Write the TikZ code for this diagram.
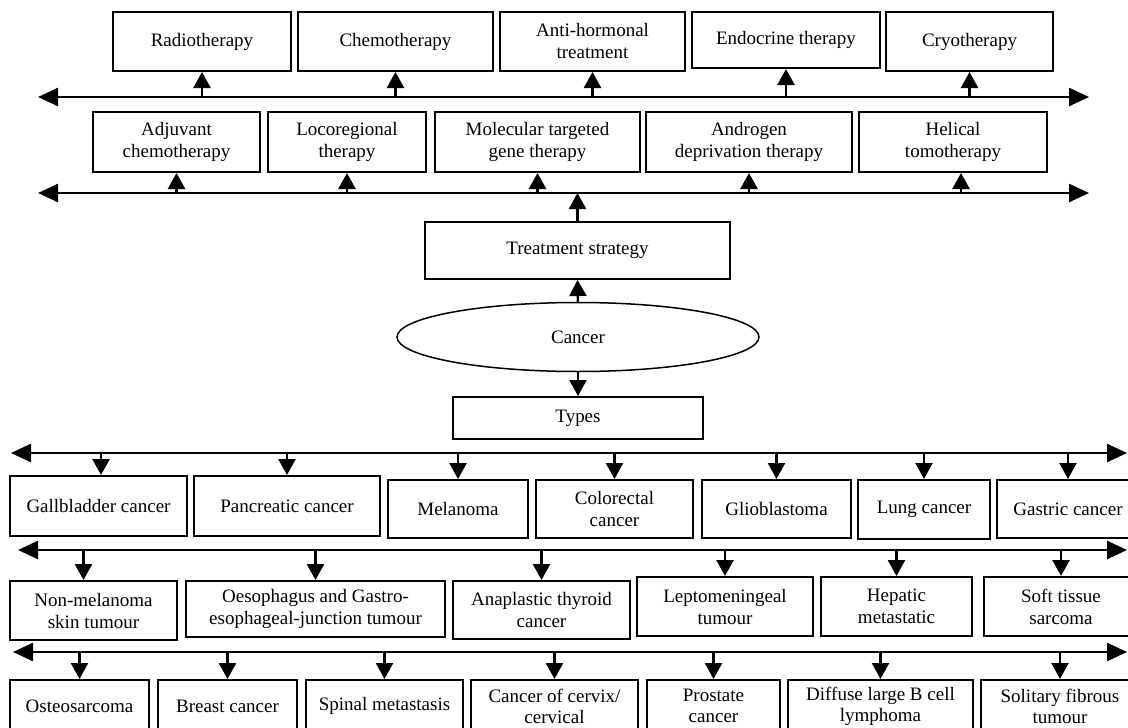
\documentclass[tikz,border=0pt]{standalone}
\usepackage{fontspec}
\setmainfont{Liberation Serif}
\usetikzlibrary{arrows.meta,shapes.geometric}
\newcommand\mybox[6]{%
  \pgfmathsetmacro\bxcx{(#2+#4)/2}%
  \pgfmathsetmacro\bxcy{(#3+#5)/2}%
  \pgfmathsetmacro\bxw{#4-#2}%
  \pgfmathsetmacro\bxh{#5-#3}%
  \node[bx, minimum width=\bxw pt, minimum height=\bxh pt] (#1) at (\bxcx,\bxcy) {#6};}
\begin{document}
\begin{tikzpicture}[x=1pt,y=-1pt,
  bx/.style={draw, line width=2pt, align=center, inner sep=0pt,
    font=\fontsize{19}{22}\selectfont},
  bxlow/.style={font=\fontsize{19}{21}\selectfont},
  arr/.style={line width=2.5pt, -{Triangle[length=16pt,width=17pt]}},
  hline/.style={line width=2.5pt, {Triangle[length=20pt,width=18pt]}-{Triangle[length=20pt,width=18pt]}}]
\useasboundingbox (0,0) rectangle (1128,728);
\clip (0,0) rectangle (1128,728);
\fill[white] (0,0) rectangle (1128,728);

% row A
\mybox{radio}{113}{12}{291}{71}{Radiotherapy}
\mybox{chemo}{298}{12}{493}{71}{Chemotherapy}
\mybox{antih}{500}{12}{685}{71}{Anti-hormonal\\treatment}
\mybox{endo}{692}{12}{880}{68}{Endocrine therapy}
\mybox{cryo}{886}{12}{1053}{71}{Cryotherapy}
% row B
\mybox{adjuv}{93}{112}{260}{172}{Adjuvant\\chemotherapy}
\mybox{loco}{268}{112}{426}{172}{Locoregional\\therapy}
\mybox{molec}{435}{112}{640}{172}{Molecular targeted\\gene therapy}
\mybox{andro}{646}{112}{852}{172}{Androgen\\deprivation therapy}
\mybox{helic}{859}{112}{1047}{172}{Helical\\tomotherapy}
% centre
\mybox{treat}{425}{222}{730}{279}{Treatment strategy}
\node[draw, ellipse, line width=1.5pt, minimum width=362pt, minimum height=69pt, inner sep=0pt,
  font=\fontsize{19}{22}\selectfont] (cancer) at (578,337) {Cancer};
\mybox{types}{453}{397}{703}{439}{Types}
% row C
\mybox{gall}{10}{476}{187}{536}{Gallbladder cancer}
\mybox{panc}{194}{476}{380}{536}{Pancreatic cancer}
\mybox{mela}{388}{480}{528}{538}{Melanoma}
\mybox{colo}{536}{480}{693}{538}{Colorectal\\cancer}
\mybox{glio}{702}{480}{851}{538}{Glioblastoma}
\mybox{lung}{858}{480}{990}{539}{Lung cancer}
\mybox{gast}{997}{480}{1139}{538}{Gastric cancer}
% row D
\mybox{nonmel}{10}{581}{177}{640}{Non-melanoma\\skin tumour}
\mybox{oeso}{186}{581}{445}{637}{Oesophagus and Gastro-\\esophageal-junction tumour}
\mybox{anap}{453}{581}{630}{639}{Anaplastic thyroid\\cancer}
\mybox{lepto}{637}{577}{813}{636}{Leptomeningeal\\tumour}
\mybox{hepa}{821}{577}{972}{636}{Hepatic\\metastatic}
\mybox{soft}{984}{577}{1138}{636}{Soft tissue\\sarcoma}
% row E
\tikzset{bx/.append style={bxlow}}
\mybox{osteo}{10}{680}{149}{732}{Osteosarcoma}
\mybox{breast}{158}{680}{297}{732}{Breast cancer}
\mybox{spinal}{306}{680}{463}{732}{Spinal metastasis}
\mybox{cervix}{471}{680}{638}{732}{Cancer of cervix/\\cervical}
\mybox{prost}{647}{680}{780}{732}{Prostate\\cancer}
\mybox{diffuse}{788}{680}{973}{732}{Diffuse large B cell\\lymphoma}
\mybox{solit}{981}{680}{1139}{732}{Solitary fibrous\\tumour}

% distribution lines
\coordinate (LAl) at (38,97);   \coordinate (LAr) at (1089,97);
\coordinate (LBl) at (38,193);  \coordinate (LBr) at (1089,193);
\coordinate (LCl) at (11,453);  \coordinate (LCr) at (1127,453);
\coordinate (LDl) at (18,550);  \coordinate (LDr) at (1127,550);
\coordinate (LEl) at (13,652);  \coordinate (LEr) at (1127,652);
\draw[hline] (LAl) -- (LAr);
\draw[hline] (LBl) -- (LBr);
\draw[hline] (LCl) -- (LCr);
\draw[hline] (LDl) -- (LDr);
\draw[hline] (LEl) -- (LEr);

% upward arrows
\foreach \n in {radio,chemo,antih,endo,cryo}
  \draw[arr] (\n.south |- LAl) -- (\n.south);
\foreach \n in {adjuv,loco,molec,andro}
  \draw[arr] (\n.south |- LBl) -- (\n.south);
\draw[arr] ([xshift=8pt]helic.south |- LBl) -- ([xshift=8pt]helic.south);
\draw[arr] (treat.north) -- (treat.north |- LBl);
\draw[arr] (cancer.north) -- (treat.south);
\draw[arr] (cancer.south) -- (types.north);

% downward arrows
\draw[arr] ([xshift=2.5pt]gall.north |- LCl) -- ([xshift=2.5pt]gall.north);
\foreach \n in {panc,mela,colo,glio,lung,gast}
  \draw[arr] (\n.north |- LCl) -- (\n.north);
\draw[arr] ([xshift=-10pt]nonmel.north |- LDl) -- ([xshift=-10pt]nonmel.north);
\foreach \n in {oeso,anap,lepto,hepa,soft}
  \draw[arr] (\n.north |- LDl) -- (\n.north);
\foreach \n in {osteo,breast,spinal,cervix,prost,diffuse,solit}
  \draw[arr] (\n.north |- LEl) -- (\n.north);
\end{tikzpicture}
\end{document}
